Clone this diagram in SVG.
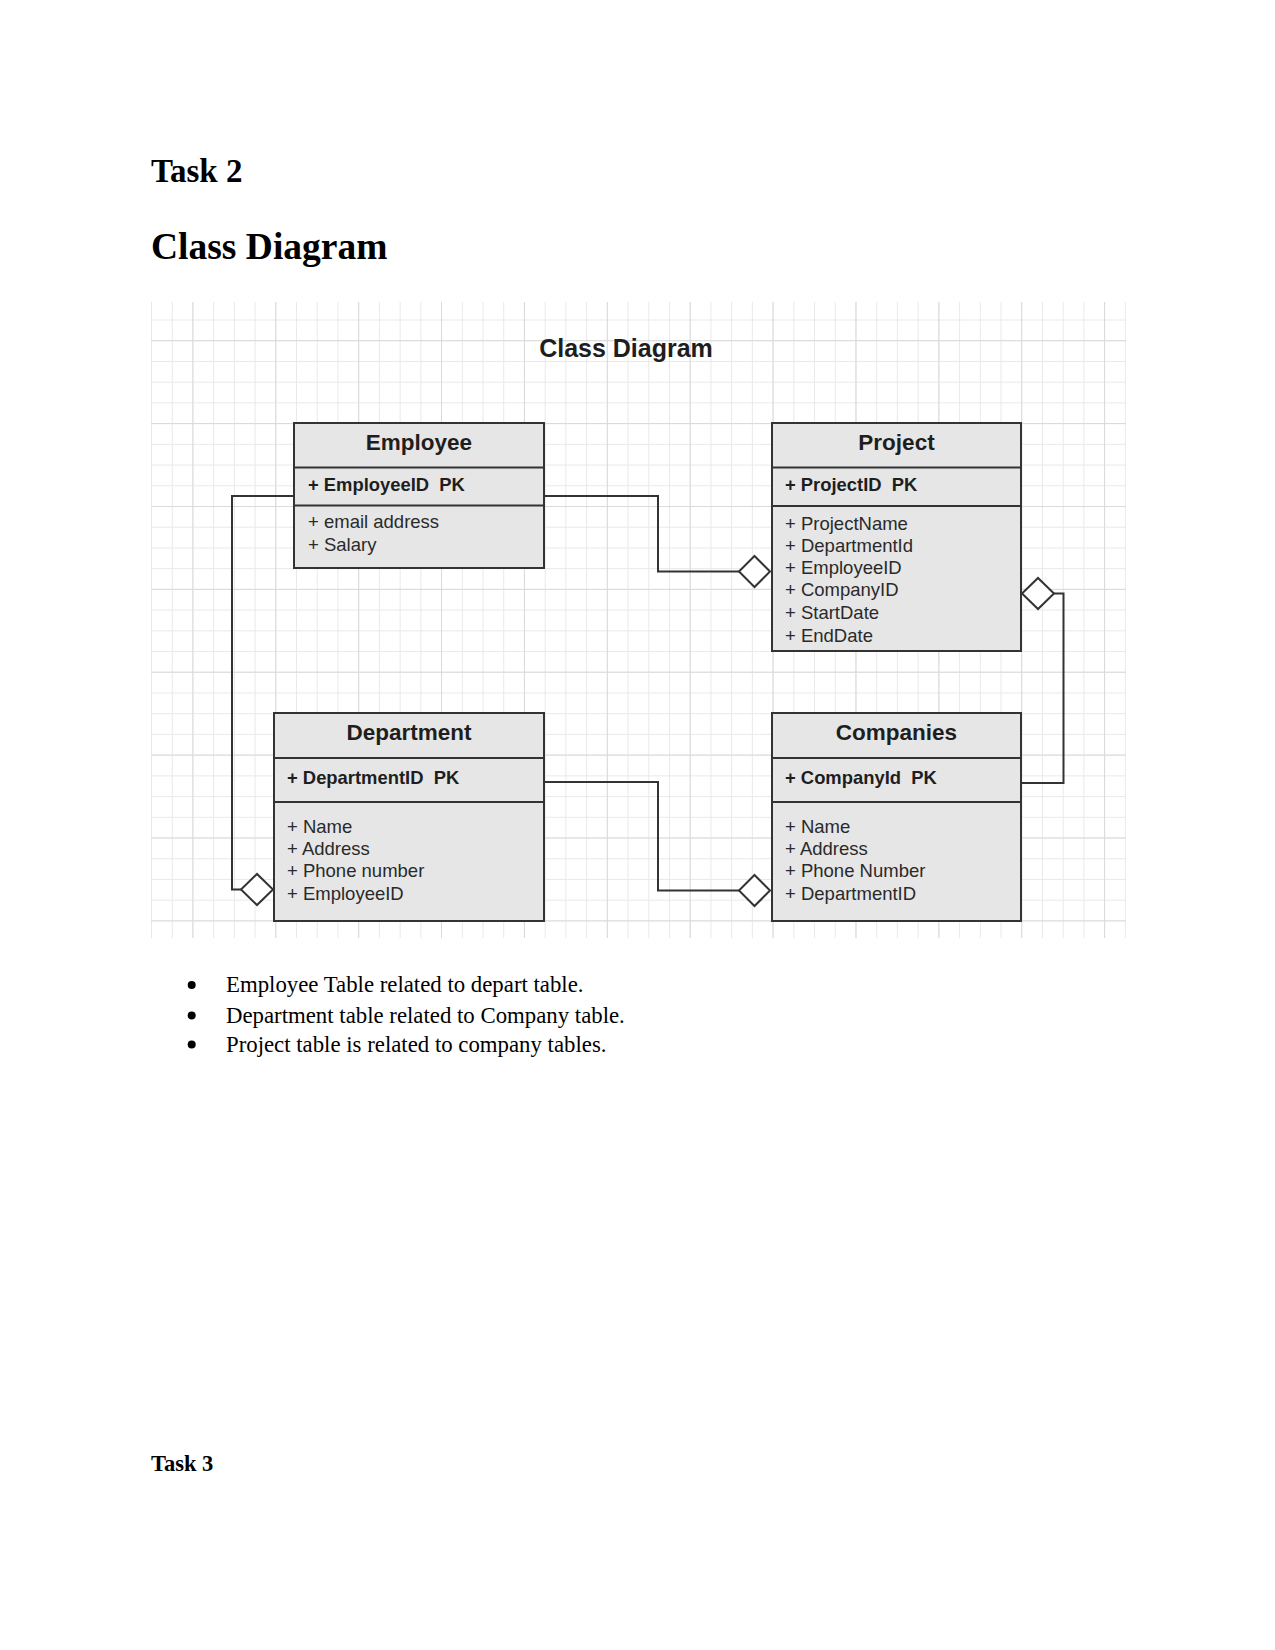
<svg xmlns="http://www.w3.org/2000/svg" width="1275" height="1650" viewBox="0 0 1275 1650">
<style>
.doc{font-family:"Liberation Serif","Times New Roman",serif;fill:#000}
.docb{font-family:"Liberation Serif","Times New Roman",serif;font-weight:bold;fill:#000}
.box{fill:#e6e6e6;stroke:#333;stroke-width:2}
.div{stroke:#333;stroke-width:2;fill:none}
.ttl{font-family:"Liberation Sans",Arial,sans-serif;font-weight:bold;font-size:22.5px;fill:#1e1e1e;text-anchor:middle}
.pk{font-family:"Liberation Sans",Arial,sans-serif;font-weight:bold;font-size:18.4px;fill:#1e1e1e;white-space:pre}
.fld{font-family:"Liberation Sans",Arial,sans-serif;font-size:18.5px;fill:#2a2a2a}
.con{fill:none;stroke:#333;stroke-width:2}
.dia{fill:#fff;stroke:#333;stroke-width:2}
</style>
<defs>
<pattern id="minor" patternUnits="userSpaceOnUse" x="151" y="298.8" width="20.72" height="20.72">
<path d="M0 0.5 H20.72 M0.5 0 V20.72" stroke="#e9e9e9" stroke-width="1" fill="none"/>
</pattern>
<pattern id="major" patternUnits="userSpaceOnUse" x="192.4" y="340.2" width="82.88" height="82.88">
<path d="M0 0.5 H82.88 M0.5 0 V82.88" stroke="#dadada" stroke-width="1" fill="none"/>
</pattern>
</defs>
<rect width="1275" height="1650" fill="#fff"/>
<text class="docb" x="151" y="181.5" font-size="33">Task 2</text>
<text class="docb" x="151" y="259" font-size="37.5">Class Diagram</text>
<g id="grid">
<rect x="151" y="302" width="975" height="636" fill="url(#minor)"/>
<rect x="151" y="302" width="975" height="636" fill="url(#major)"/>
</g>
<text x="626" y="356.5" font-family="Liberation Sans, Arial, sans-serif" font-weight="bold" font-size="25" fill="#1e1e1e" text-anchor="middle">Class Diagram</text>
<g id="connectors">
<path class="con" d="M294 496 H232 V889.5 H241"/>
<path class="con" d="M544 496 H658 V571.5 H739"/>
<path class="con" d="M544 782 H658 V890.5 H739"/>
<path class="con" d="M1021 783 H1063.5 V593.5 H1054"/>
<path class="dia" d="M241 889.5 L257 874 L273 889.5 L257 905 Z"/>
<path class="dia" d="M739 571.5 L754.5 556 L770 571.5 L754.5 587 Z"/>
<path class="dia" d="M739 890.5 L754.5 875 L770 890.5 L754.5 906 Z"/>
<path class="dia" d="M1022 593.5 L1038 578 L1054 593.5 L1038 609 Z"/>
</g>
<g id="employee">
<rect class="box" x="294" y="423" width="250" height="145"/>
<path class="div" d="M294 467.5 H544 M294 505.5 H544"/>
<text class="ttl" x="419" y="450">Employee</text>
<text class="pk" x="308" y="491">+ EmployeeID  PK</text>
<text class="fld" x="308" y="528">+ email address</text>
<text class="fld" x="308" y="551">+ Salary</text>
</g>
<g id="project">
<rect class="box" x="772" y="423" width="249" height="228"/>
<path class="div" d="M772 467.5 H1021 M772 506 H1021"/>
<text class="ttl" x="896.5" y="450">Project</text>
<text class="pk" x="785" y="491">+ ProjectID  PK</text>
<text class="fld" x="785" y="529.5">+ ProjectName</text>
<text class="fld" x="785" y="551.8">+ DepartmentId</text>
<text class="fld" x="785" y="574">+ EmployeeID</text>
<text class="fld" x="785" y="596.3">+ CompanyID</text>
<text class="fld" x="785" y="619">+ StartDate</text>
<text class="fld" x="785" y="641.5">+ EndDate</text>
</g>
<g id="department">
<rect class="box" x="274" y="713" width="270" height="208"/>
<path class="div" d="M274 758 H544 M274 802 H544"/>
<text class="ttl" x="409" y="740">Department</text>
<text class="pk" x="287" y="784">+ DepartmentID  PK</text>
<text class="fld" x="287" y="832.5">+ Name</text>
<text class="fld" x="287" y="855">+ Address</text>
<text class="fld" x="287" y="877.3">+ Phone number</text>
<text class="fld" x="287" y="899.5">+ EmployeeID</text>
</g>
<g id="companies">
<rect class="box" x="772" y="713" width="249" height="208"/>
<path class="div" d="M772 758 H1021 M772 802 H1021"/>
<text class="ttl" x="896.5" y="740">Companies</text>
<text class="pk" x="785" y="784">+ CompanyId  PK</text>
<text class="fld" x="785" y="832.5">+ Name</text>
<text class="fld" x="785" y="855">+ Address</text>
<text class="fld" x="785" y="877.3">+ Phone Number</text>
<text class="fld" x="785" y="899.5">+ DepartmentID</text>
</g>
<g id="bullets">
<circle cx="191.7" cy="985" r="4" fill="#000"/>
<circle cx="191.7" cy="1015.4" r="4" fill="#000"/>
<circle cx="191.7" cy="1044.4" r="4" fill="#000"/>
<text class="doc" x="226" y="992.3" font-size="22.8">Employee Table related to depart table.</text>
<text class="doc" x="226" y="1022.7" font-size="22.8">Department table related to Company table.</text>
<text class="doc" x="226" y="1051.7" font-size="22.8">Project table is related to company tables.</text>
</g>
<text class="docb" x="151" y="1470.5" font-size="22.5">Task 3</text>
</svg>
